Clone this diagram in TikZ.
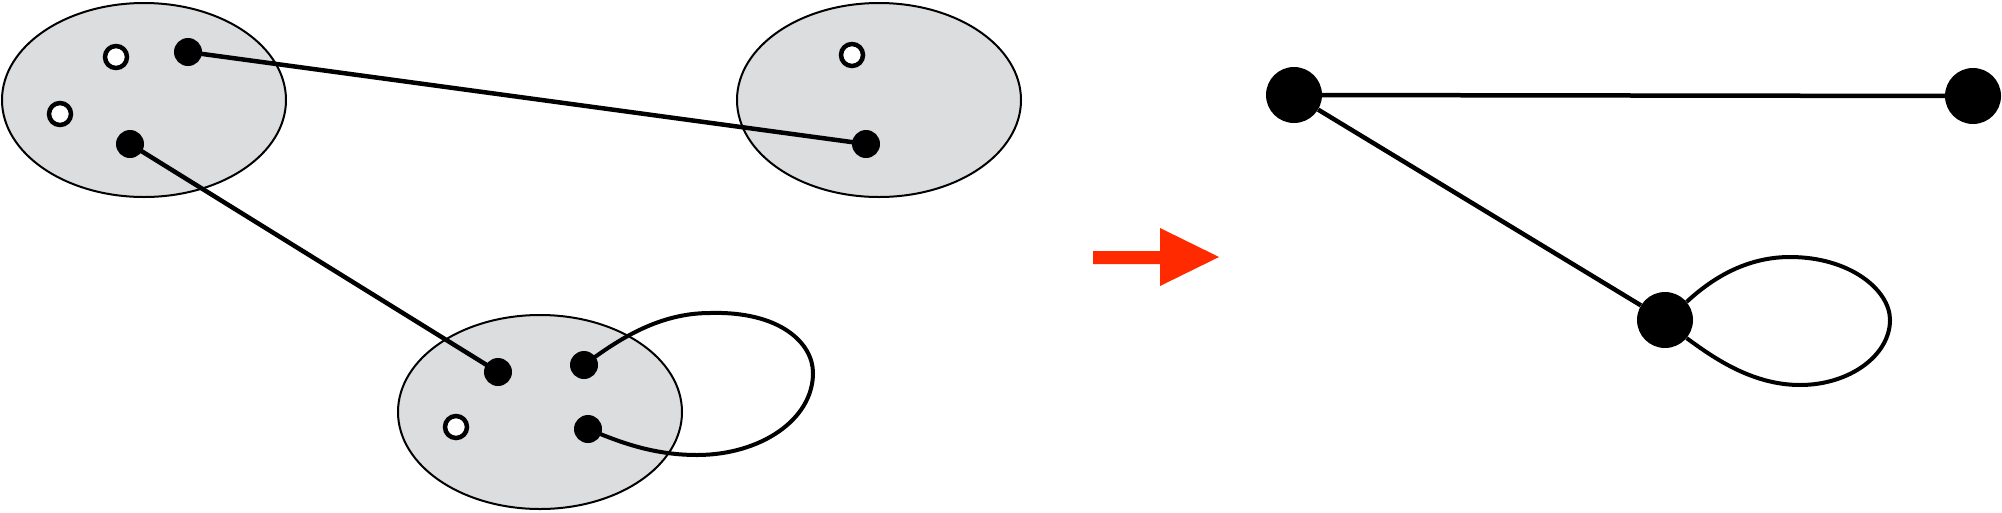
\documentclass[tikz,border=0pt]{standalone}
\definecolor{regiongray}{RGB}{220,221,223}
\definecolor{arrowred}{RGB}{255,42,0}
\begin{document}
\begin{tikzpicture}[x=1pt,y=-1pt,
  region/.style={draw=black,line width=2pt,fill=regiongray},
  fulldot/.style={circle,fill=black,inner sep=0pt,minimum size=28pt},
  opendot/.style={circle,draw=black,fill=white,line width=4.5pt,inner sep=0pt,minimum size=22pt},
  bigdot/.style={circle,fill=black,inner sep=0pt,minimum size=56pt},
  edge/.style={line width=4.5pt,black},
  loopedge/.style={line width=4pt,black}]
\useasboundingbox (0,0) rectangle (2002,512);
% regions
\draw[region] (144,100) ellipse [x radius=142,y radius=97];
\draw[region] (879,100) ellipse [x radius=142,y radius=97];
\draw[region] (540,412) ellipse [x radius=142,y radius=97];
% points
\coordinate (a1) at (188,52);
\coordinate (a2) at (130,144);
\coordinate (b1) at (866,144);
\coordinate (c1) at (498,372);
\coordinate (c2) at (584,365);
\coordinate (c3) at (588,429);
\coordinate (lt) at (710,313);
\coordinate (lr) at (813,373);
\coordinate (lb) at (697,455);
% edges
\draw[edge] (a1) -- (b1);
\draw[edge] (a2) -- (c1);
\draw[loopedge] (c2) .. controls (620,338) and (660,313) .. (lt)
  .. controls (780,311) and (813,343) .. (lr)
  .. controls (813,420) and (760,455) .. (lb)
  .. controls (650,455) and (615,440) .. (c3);
% dots
\node[fulldot] (A1) at (a1) {};
\node[fulldot] (A2) at (a2) {};
\node[opendot] (A3) at (116,57) {};
\node[opendot] (A4) at (60,114) {};
\node[opendot] (B2) at (852,55) {};
\node[fulldot] (B1) at (b1) {};
\node[fulldot] (C1) at (c1) {};
\node[fulldot] (C2) at (c2) {};
\node[fulldot] (C3) at (c3) {};
\node[opendot] (C4) at (456,427) {};
% arrow
\fill[arrowred] (1093,251) -- (1160,251) -- (1160,228) -- (1219,257) -- (1160,286) -- (1160,264) -- (1093,264) -- cycle;
% right graph
\node[bigdot] (P) at (1294,95) {};
\node[bigdot] (Q) at (1973,96) {};
\node[bigdot] (R) at (1665,320) {};
\coordinate (rt) at (1790,257);
\coordinate (rr) at (1890,320);
\coordinate (rb) at (1800,385);
\draw[edge] (P) -- (Q);
\draw[edge] (P) -- (R);
\draw[loopedge] (R.40) .. controls (1705,285) and (1740,257) .. (rt)
  .. controls (1850,257) and (1890,290) .. (rr)
  .. controls (1890,355) and (1850,385) .. (rb)
  .. controls (1750,385) and (1710,355) .. (R.-40);
\end{tikzpicture}
\end{document}
